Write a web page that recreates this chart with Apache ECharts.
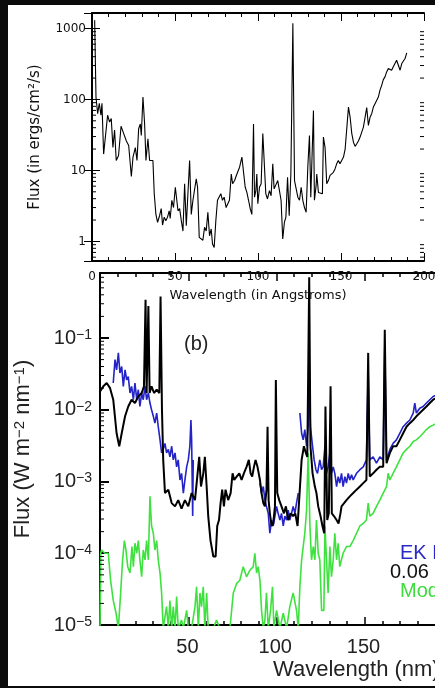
<!DOCTYPE html>
<html><head><meta charset="utf-8">
<script src="https://cdn.jsdelivr.net/npm/echarts@6/dist/echarts.min.js"></script>
<style>html,body{margin:0;padding:0;background:#0a0a0a}#c{width:435px;height:688px}</style>
</head><body><div id="c"></div>
<script>
// ---------- Top panel (Angstrom spectrum) ----------
const topWave = [1.6,2.4,3.4,4.4,5.4,6.0,7.0,8.2,9.4,10.6,11.6,12.6,13.6,14.6,16.0,17.5,19.1,20.7,22.1,23.7,24.7,26.1,27.1,28.1,29.1,29.7,30.7,31.7,32.5,33.7,34.7,35.7,36.7,37.5,38.5,39.5,40.7,41.7,42.5,43.5,44.5,45.5,46.5,47.1,48.1,49.1,50.2,51.2,51.8,52.8,53.8,54.8,55.8,56.8,57.8,58.8,59.8,60.8,61.8,62.8,63.6,64.6,65.8,66.8,67.8,68.8,69.8,70.8,71.8,72.6,73.6,74.6,75.6,76.6,77.6,78.6,79.6,80.8,81.8,82.8,83.9,84.7,85.9,87.3,88.9,90.3,91.3,92.3,93.3,94.3,95.3,96.3,97.3,97.9,98.7,99.3,99.9,100.9,101.9,102.9,103.7,104.7,105.7,106.9,107.9,108.9,109.7,110.7,111.9,112.9,113.9,114.9,115.9,116.8,117.8,118.8,119.8,121.0,122.0,123.0,124.0,125.0,126.0,127.0,128.0,129.0,130.0,131.0,131.8,132.8,133.4,134.0,135.0,135.4,136.4,137.4,138.8,139.4,140.4,141.4,142.4,143.4,144.4,145.4,146.4,147.4,148.4,149.4,150.5,151.5,152.5,153.5,154.5,155.5,156.5,157.5,158.5,159.5,160.5,161.5,162.5,163.5,164.5,165.5,166.5,167.5,168.5,169.5,170.5,171.5,172.5,173.5,174.5,175.5,176.5,177.5,178.5,179.5,180.5,181.5,182.5,183.5,184.6,185.6,186.6,187.6,188.6,189.6];
const topFlux = [1300,108,63,88,60,88,17,16.8,60,48,54,21,37,13.8,16.2,42,33,26,22.5,8.2,15.4,21,13.8,38.7,45,31,108,45,13.8,28,13.8,13,13.8,4.7,2.4,1.85,2.3,2.9,1.7,2.2,1.96,2.2,2.7,2.1,3.8,3.0,5.8,5.5,2.7,2.9,1.96,1.4,6.5,1.66,1.58,13.8,2.4,3.8,3.6,7.6,5.8,1.14,1.11,1.04,1.58,1.4,2.57,1.2,1.5,0.92,0.82,1.96,3.8,3.6,4.7,3.8,4.2,3.0,3.4,3.8,8.9,6.5,7.2,8.9,11.1,15.4,15.4,5.8,4.9,3.8,2.9,2.4,45,4.2,5.2,8.9,3.4,5.8,6.5,33,33.6,4.7,3.96,5.2,4.4,12.4,5.5,5.8,7.2,6.8,3.8,1.08,1.85,2.2,8.0,2.3,8.9,1180,7.2,5.5,4.2,3.8,5.8,3.8,3.0,2.57,11.1,31,4.2,3.96,70,3.8,6.1,8.9,4.9,4.9,4.7,29.5,21,6.5,7.2,8.5,8.5,9.4,10.5,12.4,13.8,12.4,13,15.4,20,21,78,56,33,25,21.8,23.7,26,29.5,34.7,40.8,56,76.6,43,56,63,78,87,92,108,135,158,190,208,244,272,272,258,288,304,357,339,258,320,339,377,454];
const topYTicks = [1, 10, 100, 1000];
const topMinor = [0.6,0.7,0.8,0.9,2,3,4,5,6,7,8,9,20,30,40,50,60,70,80,90,200,300,400,500,600,700,800,900];

// ---------- Bottom panel (nm spectrum) ----------
const blackWave = [0,1.9,3.8,5.7,7.5,9.4,10.9,12.3,14.2,16.0,17.9,19.8,21.7,23.6,24.9,25.8,26.4,27.4,28.1,29.2,30.6,32.1,33.6,34.3,35.1,35.8,36.8,38.7,40.6,42.5,44.3,46.2,48.1,50.0,51.9,53.8,55.1,56.2,57.2,58.5,59.4,60.4,61.3,62.6,64.2,65.5,66.4,67.4,68.3,69.2,70.2,71.1,72.6,74.0,75.1,76.0,77.4,78.9,80.2,81.5,83.0,84.3,85.3,86.2,87.2,88.1,89.2,90.6,91.5,92.5,93.4,94.3,94.9,95.5,96.2,97.2,98.1,99.1,99.6,100.4,101.5,102.8,104.2,105.3,106.6,107.9,109.4,110.6,111.9,112.8,114.2,115.5,116.6,117.4,117.9,118.5,119.2,120.4,121.7,122.6,123.6,124.9,126.0,127.0,127.7,128.7,129.6,130.6,131.3,132.5,134.0,135.1,136.2,136.8,137.7,139.6,141.5,143.4,145.3,147.2,149.1,150.9,151.9,152.8,154.7,156.6,158.5,160.4,161.3,162.3,164.2,166.0,167.9,169.8,171.7,173.6,175.5,177.4,179.2,181.1,183.0,184.9,186.8,188.7,195,200];
const blackFlux = [0.018,0.0212,0.0236,0.020,0.0138,0.0047,0.0031,0.0047,0.0081,0.0111,0.0138,0.0124,0.0153,0.0171,0.0212,0.34,0.0171,0.28,0.0171,0.0212,0.0171,0.019,0.0171,0.38,0.010,0.0020,0.00069,0.00077,0.00050,0.00045,0.00055,0.00042,0.00055,0.00045,0.00069,0.00055,0.00117,0.0022,0.00085,0.0013,0.0022,0.00085,0.00033,0.00015,0.00009,0.00009,0.00024,0.00029,0.00050,0.00077,0.00045,0.00077,0.00055,0.00069,0.0013,0.00105,0.00117,0.0013,0.00105,0.0013,0.0016,0.0020,0.0013,0.00117,0.0016,0.0020,0.0016,0.00105,0.00069,0.00050,0.00045,0.00077,0.0058,0.00055,0.00036,0.00024,0.00026,0.00045,0.026,0.00069,0.00055,0.00045,0.00036,0.00045,0.00029,0.00036,0.00033,0.00036,0.00024,0.00055,0.0020,0.0031,0.0025,0.0022,0.029,0.7,0.0031,0.0013,0.00085,0.00069,0.00045,0.00033,0.00024,0.00019,0.0111,0.00029,0.00036,0.0212,0.00036,0.00033,0.00029,0.00026,0.00036,0.00045,0.00047,0.00055,0.00062,0.00069,0.00077,0.00085,0.00095,0.00105,0.062,0.00117,0.0013,0.00146,0.0016,0.0016,0.13,0.0018,0.0025,0.0031,0.0031,0.0038,0.0047,0.0058,0.0065,0.0072,0.0081,0.0090,0.010,0.0111,0.0124,0.0138,0.017,0.020];
const blueWave = [7.5,8.5,9.4,10.4,11.3,12.3,13.2,14.2,15.1,16.0,17.0,17.9,18.9,19.8,20.8,21.7,22.6,23.6,24.5,25.5,26.4,27.4,28.3,29.2,30.2,31.1,32.1,33.0,34.0,34.9,35.8,36.8,37.7,38.7,39.6,40.6,41.5,42.5,43.4,44.3,45.3,46.2,47.2,48.1,49.1,50.0,50.9,51.5,51.9,52.5,52.8,53.0,90.6,91.5,92.5,93.4,94.3,95.3,96.2,97.2,98.1,99.1,100,100.9,101.9,102.8,103.8,104.7,105.7,106.6,107.5,108.5,109.4,110.4,111.3,112.3,112.8,113.2,114.2,115.1,116.0,117.0,117.9,118.5,119.2,120.4,121.3,122.3,123.2,124.5,125.5,126.4,127.4,128.3,129.2,130.2,131.1,132.1,133.0,134.0,134.9,135.8,136.8,137.7,138.7,139.6,140.6,141.5,142.5,143.4,145.3,147.2,149.1,150.9,151.9,152.8,154.7,156.6,158.5,160.4,161.3,162.3,164.2,166.0,167.9,169.8,171.7,173.6,175.5,177.4,178.3,179.2,181.1,183.0,184.9,186.8,188.7,195,200];
const blueFlux = [0.0236,0.050,0.036,0.062,0.0325,0.040,0.0212,0.036,0.026,0.029,0.0171,0.0212,0.0138,0.0236,0.0138,0.019,0.0111,0.0171,0.0138,0.0212,0.0138,0.0171,0.0124,0.010,0.0081,0.0065,0.0090,0.0058,0.0038,0.0025,0.0028,0.0034,0.0025,0.0028,0.0022,0.0031,0.0020,0.0025,0.0016,0.0020,0.00105,0.0013,0.00069,0.00105,0.0016,0.0020,0.0031,0.0072,0.0038,0.00033,0.0020,null,0.00095,0.00069,0.00085,0.00055,0.00055,0.00036,0.00019,0.00029,0.00024,0.00033,0.00045,0.00036,0.00029,0.00036,0.00024,0.00033,0.00029,0.00040,0.00029,0.00036,0.00045,0.00036,0.00050,0.00069,null,0.0090,0.0047,0.0038,0.0053,0.0031,0.0058,0.026,0.0058,0.0031,0.0020,0.00146,0.0013,0.0020,0.00146,0.0016,0.0031,0.0013,0.0016,0.0025,0.0013,0.0016,0.0013,0.00085,0.00117,0.00095,0.0013,0.00085,0.00117,0.00095,0.0013,0.00105,0.00124,0.00105,0.0013,0.00146,0.0016,0.0020,0.0325,0.0020,0.0022,0.0018,0.0022,0.0020,0.077,0.0020,0.0028,0.0034,0.0038,0.0047,0.0058,0.0065,0.0072,0.0090,0.0124,0.0090,0.0105,0.0111,0.0124,0.0138,0.0153,0.018,0.021];
const greenWave = [0,0.4,0.9,2.8,4.7,6.0,7.5,9.1,10.4,11.7,12.8,13.8,14.7,15.7,17.0,18.1,18.9,19.8,20.8,21.7,22.6,23.6,24.5,25.5,26.4,27.4,28.3,29.2,30.2,31.1,32.1,33.0,34.0,34.9,35.8,37.7,38.7,39.6,40.6,41.5,42.5,43.4,44.3,46.2,47.2,49.1,50,51.9,53.8,54.7,55.7,56.6,57.5,58.5,59.4,60.4,61.3,64.2,66.0,67.9,73.6,75.5,77.4,79.2,81.1,83.0,84.9,86.8,87.7,88.7,89.6,90.6,91.5,92.5,93.4,94.3,95.3,96.6,97.7,98.5,100,101.9,103.8,105.7,107.5,109.4,111.3,112.3,113.2,114.2,115.1,116.0,117.0,117.9,118.9,119.8,120.8,121.7,122.6,123.6,124.5,125.5,126.8,127.4,128.3,129.2,130.2,131.1,132.1,133.0,134.0,134.9,135.8,137.7,139.6,141.5,143.4,145.3,147.2,149.1,150.9,151.9,152.8,154.7,156.6,158.5,160.4,162.3,163.2,164.2,166.0,167.9,169.8,171.7,173.6,175.5,177.4,179.2,181.1,183.0,184.9,186.8,188.7,195,200];
const greenFlux = [9e-6,1e-4,1.11e-4,1e-4,1e-4,4.2e-5,2.2e-5,1.46e-5,9e-6,2.8e-5,8.1e-5,1.5e-4,1.11e-4,6.5e-5,5.3e-5,1.24e-4,6.5e-5,1.38e-4,1e-4,1.5e-4,8.1e-5,4.7e-5,1.11e-4,8.1e-5,1.5e-4,8.1e-5,6.2e-4,2.4e-4,1.9e-4,1.11e-4,1.5e-4,8.1e-5,5.3e-5,2.8e-5,9e-6,1.8e-5,9e-6,2.2e-5,9e-6,1.8e-5,9e-6,2.5e-5,9e-6,1.17e-5,9e-6,1.6e-5,9e-6,9e-6,1.8e-5,3.4e-5,9e-6,2.8e-5,1.8e-5,3.4e-5,9e-6,2.8e-5,9e-6,9e-6,1.17e-5,9e-6,9e-6,2.8e-5,3.8e-5,4.2e-5,6.5e-5,4.7e-5,5.8e-5,6.5e-5,1e-4,5.3e-5,6.5e-5,4.2e-5,1.6e-5,9e-6,1.17e-5,2.8e-5,9e-6,1.6e-5,3.4e-5,9e-6,1.6e-5,9e-6,1.46e-5,9e-6,1.8e-5,2.8e-5,1.6e-5,9e-6,3.4e-5,8.1e-5,1.24e-4,1.9e-4,4.0e-4,2.5e-3,2.4e-4,8.1e-5,1.24e-4,8.1e-5,2.9e-4,1e-4,8.1e-5,1.6e-5,1.6e-5,2.4e-4,8.1e-5,2.8e-5,1.24e-4,4.7e-5,8.1e-5,1.9e-4,8.1e-5,1.38e-4,6.5e-5,1e-4,1.24e-4,1.24e-4,1.5e-4,1.9e-4,2.4e-4,2.6e-4,2.9e-4,5.0e-4,3.3e-4,3.6e-4,4.5e-4,5.5e-4,6.9e-4,8.5e-4,1.3e-3,1.05e-3,1.3e-3,1.6e-3,2.0e-3,2.5e-3,2.8e-3,3.1e-3,3.6e-3,3.8e-3,4.2e-3,4.7e-3,5.3e-3,5.8e-3,6.1e-3,7.5e-3,9e-3];
const botXLabels = [50, 100, 150, 200, 250];
const botYTicks = [1e-5, 1e-4, 1e-3, 1e-2, 1e-1];
const botMinor = [2e-5,3e-5,4e-5,5e-5,6e-5,7e-5,8e-5,9e-5,2e-4,3e-4,4e-4,5e-4,6e-4,7e-4,8e-4,9e-4,2e-3,3e-3,4e-3,5e-3,6e-3,7e-3,8e-3,9e-3,0.02,0.03,0.04,0.05,0.06,0.07,0.08,0.09,0.2,0.3,0.4,0.5,0.6,0.7,0.8];
const legendTexts = ['EK Dra', '0.06 Gyr', 'Model'];

const zip = (a, b) => a.map((x, i) => [x, b[i] == null ? null : b[i]]).filter((p, i) => i < b.length);

const isDecade = v => { const l = Math.log10(v); return Math.abs(l - Math.round(l)) < 1e-6; };

function minorSeries(xi, yi, vals, xL, xR, len) {
  return {
    type: 'custom', xAxisIndex: xi, yAxisIndex: yi, silent: true, z: 5,
    data: vals.map(v => [xL, v]),
    renderItem: (params, api) => {
      const v = api.value(1);
      const pL = api.coord([xL, v]);
      const ch = [{type: 'line', shape: {x1: pL[0], y1: pL[1], x2: pL[0] + len, y2: pL[1]}, style: {stroke: '#000', lineWidth: 1}}];
      if (xR != null) {
        const pR = api.coord([xR, v]);
        ch.push({type: 'line', shape: {x1: pR[0] - len, y1: pR[1], x2: pR[0], y2: pR[1]}, style: {stroke: '#000', lineWidth: 1}});
      }
      return {type: 'group', children: ch};
    }
  };
}

const topFont = 'DejaVu Sans';
const botFont = 'Liberation Sans';
const supRich = {
  b: {fontSize: 20, fontFamily: botFont, color: '#222'},
  s: {fontSize: 14, fontFamily: botFont, color: '#222', verticalAlign: 'top', lineHeight: 14}
};

const staticGraphic = [
  {type: 'rect', shape: {x: 0, y: 0, width: 8, height: 688}, style: {fill: '#0b0b0b'}, z: 100},
  {type: 'rect', shape: {x: 0, y: 0, width: 435, height: 5}, style: {fill: '#0b0b0b'}, z: 100},
  {type: 'rect', shape: {x: 0, y: 686, width: 435, height: 2}, style: {fill: '#0b0b0b'}, z: 100},
  {type: 'text', left: 184, top: 334, style: {text: '(b)', font: '20px "Liberation Sans"', fill: '#222'}, z: 50},
  {type: 'text', left: 400, top: 543, style: {text: legendTexts[0], font: '20px "Liberation Sans"', fill: '#2a2ac8'}, z: 50},
  {type: 'text', left: 390, top: 562, style: {text: legendTexts[1], font: '20px "Liberation Sans"', fill: '#111'}, z: 50},
  {type: 'text', left: 400, top: 581, style: {text: legendTexts[2], font: '20px "Liberation Sans"', fill: '#3ddc3d'}, z: 50},
  {type: 'text', left: 273, top: 659, style: {text: 'Wavelength (nm)', font: '22px "Liberation Sans"', fill: '#222'}, z: 50}
];

const chart = echarts.init(document.getElementById('c'), null, {renderer: 'canvas'});
chart.setOption({
  backgroundColor: '#ffffff',
  animation: false,
  graphic: staticGraphic,
  grid: [
    {left: 92, top: 13, width: 332, height: 248, containLabel: false, outerBoundsMode: 'none'},
    {left: 100, top: 273, width: 512, height: 352, containLabel: false, outerBoundsMode: 'none'}
  ],
  xAxis: [
    {gridIndex: 0, type: 'value', min: 0, max: 200, interval: 50, position: 'bottom', z: 10,
     axisLine: {lineStyle: {color: '#000', width: 2}}, axisTick: {inside: true, length: 8, lineStyle: {color: '#000', width: 1}},
     minorTick: {show: true, splitNumber: 5, length: 4, lineStyle: {color: '#000', width: 1}},
     splitLine: {show: false},
     axisLabel: {fontFamily: topFont, fontSize: 12, color: '#111', margin: 10},
     name: 'Wavelength (in Angstroms)', nameLocation: 'middle', nameGap: 28, nameTextStyle: {fontFamily: topFont, fontSize: 13, color: '#111'}},
    {gridIndex: 0, type: 'value', min: 0, max: 200, interval: 50, position: 'top',
     axisLine: {lineStyle: {color: '#000', width: 2}}, axisTick: {inside: true, length: 8, lineStyle: {color: '#000'}},
     minorTick: {show: true, splitNumber: 5, length: 4, lineStyle: {color: '#000'}},
     splitLine: {show: false}, axisLabel: {show: false}},
    {gridIndex: 1, type: 'value', min: 0, max: 290, interval: 50, position: 'bottom',
     axisLine: {lineStyle: {color: '#000', width: 2}}, axisTick: {inside: true, length: 8, lineStyle: {color: '#000', width: 1.5}},
     minorTick: {show: true, splitNumber: 5, length: 4, lineStyle: {color: '#000', width: 1.5}},
     splitLine: {show: false},
     axisLabel: {show: false}},
    {gridIndex: 1, type: 'value', min: 0, max: 290, interval: 50, position: 'top',
     axisLine: {lineStyle: {color: '#000', width: 2}}, axisTick: {inside: true, length: 8, lineStyle: {color: '#000', width: 1.5}},
     minorTick: {show: true, splitNumber: 5, length: 4, lineStyle: {color: '#000', width: 1.5}},
     splitLine: {show: false}, axisLabel: {show: false}}
  ],
  yAxis: [
    {gridIndex: 0, type: 'log', logBase: 10, min: 0.53, max: 1650, position: 'left',
     axisLine: {show: true, lineStyle: {color: '#000', width: 2}}, axisTick: {inside: true, length: 8, lineStyle: {color: '#000'}},
     splitLine: {show: false},
     axisLabel: {fontFamily: topFont, fontSize: 12, color: '#111', margin: 6,
       formatter: v => isDecade(v) && topYTicks.indexOf(Math.round(v)) >= 0 ? String(Math.round(v)) : ''},
     name: 'Flux (in ergs/cm²/s)', nameLocation: 'middle', nameGap: 49, nameTextStyle: {fontFamily: topFont, fontSize: 15, color: '#111'}},
    {gridIndex: 0, type: 'log', logBase: 10, min: 0.53, max: 1650, position: 'right',
     axisLine: {show: true, lineStyle: {color: '#000', width: 2}}, axisTick: {inside: true, length: 8, lineStyle: {color: '#000'}},
     splitLine: {show: false}, axisLabel: {show: false}},
    {gridIndex: 1, type: 'log', logBase: 10, min: 1e-5, max: 0.805, position: 'left',
     axisLine: {show: true, lineStyle: {color: '#000', width: 2}}, axisTick: {inside: true, length: 9, lineStyle: {color: '#000', width: 2}},
     splitLine: {show: false},
     axisLabel: {margin: 8, rich: supRich,
       formatter: v => isDecade(v) ? '{b|10}{s|\u2212' + Math.round(-Math.log10(v)) + '}' : ''},
     name: 'Flux (W m{s|\u22122} nm{s|\u22121})', nameLocation: 'middle', nameGap: 66,
     nameTextStyle: {fontFamily: botFont, fontSize: 22, color: '#222', rich: {s: {fontSize: 15, fontFamily: botFont, color: '#222', verticalAlign: 'top', lineHeight: 15}}}}
  ],
  series: [
    {type: 'line', xAxisIndex: 2, yAxisIndex: 2, data: zip(greenWave, greenFlux), showSymbol: false, connectNulls: false,
     lineStyle: {color: '#3ee23e', width: 1.6}, z: 2},
    {type: 'line', xAxisIndex: 2, yAxisIndex: 2, data: zip(blueWave, blueFlux), showSymbol: false, connectNulls: false,
     lineStyle: {color: '#2323c8', width: 1.6}, z: 3},
    {type: 'line', xAxisIndex: 2, yAxisIndex: 2, data: zip(blackWave, blackFlux), showSymbol: false,
     lineStyle: {color: '#000', width: 2}, z: 4},
    {type: 'line', xAxisIndex: 0, yAxisIndex: 0, data: zip(topWave, topFlux), showSymbol: false,
     lineStyle: {color: '#000', width: 1.1}, z: 4},
    minorSeries(0, 0, topMinor, 0, 200, 4),
    minorSeries(2, 2, botMinor, 0, null, 4)
  ]
});

// lower-panel x tick labels: positioned through the axis scale (convertToPixel)
const labelGraphic = botXLabels.map(v => {
  const p = chart.convertToPixel({xAxisIndex: 2, yAxisIndex: 2}, [v, botYTicks[0]]);
  return {type: 'text', x: p[0] - 6 * String(v).length, y: p[1] + 12, z: 200,
    style: {text: String(v), font: '20px "Liberation Sans"', fill: '#222'}};
});
chart.setOption({graphic: staticGraphic.concat(labelGraphic)});
</script></body></html>
